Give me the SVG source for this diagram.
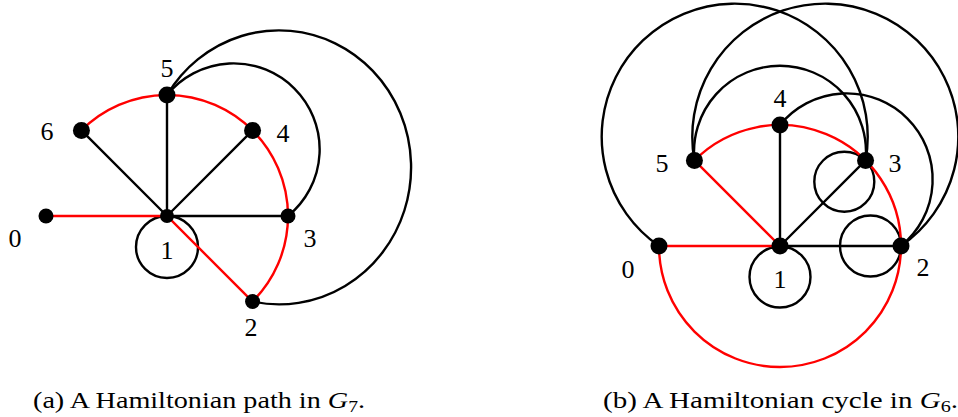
<svg xmlns="http://www.w3.org/2000/svg" width="958" height="417" viewBox="0 0 958 417">
<style>
.e{fill:none;stroke:#000;stroke-width:2.4}
.r{fill:none;stroke:#f00;stroke-width:2.4}
.n{fill:#000}
.l{font-family:"Liberation Serif","DejaVu Serif",serif;font-size:26px;fill:#000;text-anchor:middle}
.c{font-family:"Liberation Serif","DejaVu Serif",serif;font-size:23px;fill:#000}
</style>
<rect width="958" height="417" fill="#fff"/>
<g id="connectors">
  <path class="e" d="M167 216L81.44 130.44M167 216L167 95M167 216L252.56 130.44M167 216L288 216"/>
  <path class="e" d="M167 95A86 86 0 1 1 288 216"/>
  <path class="e" d="M167 95A132 137 0 1 1 252.56 301.56"/>
  <circle class="e" cx="167" cy="247" r="31"/>
  <path class="r" d="M46 216L167 216L252.56 301.56"/>
  <path class="r" d="M81.44 130.44A121 121 0 0 1 252.56 130.44A121 121 0 0 1 252.56 301.56"/>
  <path class="e" d="M780 246L780 125M780 246L865.56 160.44M780 246L901 246"/>
  <path class="e" d="M659 246A133 133 0 1 1 865.56 160.44"/>
  <path class="e" d="M694.44 160.44A133 133 0 1 1 901 246"/>
  <path class="e" d="M694.44 160.44A86 86 0 1 1 865.56 160.44"/>
  <path class="e" d="M780 125A86 86 0 1 1 901 246"/>
  <circle class="e" cx="780" cy="277" r="30.5"/>
  <circle class="e" cx="844.3" cy="181.7" r="30"/>
  <circle class="e" cx="870.5" cy="246" r="30.5"/>
  <path class="r" d="M659 246L780 246L694.44 160.44"/>
  <path class="r" d="M694.44 160.44A121 121 0 0 1 901 246A121 121 0 0 1 780 367A121 121 0 0 1 659 246"/>
</g>
<g id="a0"><circle class="n" cx="46" cy="216" r="7.5"/><text class="l" x="15" y="247">0</text></g>
<g id="a1"><circle class="n" cx="167" cy="216" r="7"/><text class="l" x="167" y="259">1</text></g>
<g id="a2"><circle class="n" cx="252.56" cy="301.56" r="7.5"/><text class="l" x="251" y="336">2</text></g>
<g id="a3"><circle class="n" cx="288" cy="216" r="7.5"/><text class="l" x="310" y="247">3</text></g>
<g id="a4"><circle class="n" cx="252.56" cy="130.44" r="8.5"/><text class="l" x="283" y="142">4</text></g>
<g id="a5"><circle class="n" cx="167" cy="95" r="8.5"/><text class="l" x="167" y="77">5</text></g>
<g id="a6"><circle class="n" cx="81.44" cy="130.44" r="8.5"/><text class="l" x="47" y="140">6</text></g>
<g id="b0"><circle class="n" cx="659" cy="246" r="8.5"/><text class="l" x="628" y="278">0</text></g>
<g id="b1"><circle class="n" cx="780" cy="246" r="8.5"/><text class="l" x="780" y="288">1</text></g>
<g id="b2"><circle class="n" cx="901" cy="246" r="8.5"/><text class="l" x="923" y="276">2</text></g>
<g id="b3"><circle class="n" cx="865.56" cy="160.44" r="8.5"/><text class="l" x="895" y="172">3</text></g>
<g id="b4"><circle class="n" cx="780" cy="125" r="8.5"/><text class="l" x="780" y="107">4</text></g>
<g id="b5"><circle class="n" cx="694.44" cy="160.44" r="8.5"/><text class="l" x="662" y="172">5</text></g>
<g id="captions">
  <text class="c" x="33" y="408" textLength="332" lengthAdjust="spacingAndGlyphs">(a) A Hamiltonian path in <tspan font-style="italic">G</tspan><tspan font-size="16" dy="4">7</tspan><tspan dy="-4">.</tspan></text>
  <text class="c" x="603" y="408" textLength="355" lengthAdjust="spacingAndGlyphs">(b) A Hamiltonian cycle in <tspan font-style="italic">G</tspan><tspan font-size="16" dy="4">6</tspan><tspan dy="-4">.</tspan></text>
</g>
</svg>
